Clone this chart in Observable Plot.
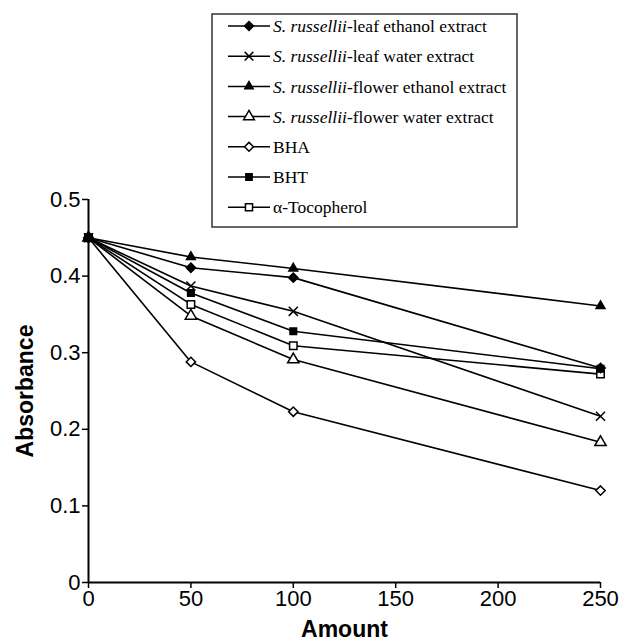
<!DOCTYPE html>
<html>
<head>
<meta charset="utf-8">
<script src="https://cdn.jsdelivr.net/npm/d3@7"></script>
<script src="https://cdn.jsdelivr.net/npm/@observablehq/plot@0.6"></script>
<style>
  body { margin: 0; background: #fff; }
  #wrap { position: relative; width: 621px; height: 644px; }
  #wrap svg.plot { position: absolute; left: 0; top: 0; }
  #legend { position: absolute; left: 0; top: 0; pointer-events: none; }
  g[aria-label="y-axis label"] text, g[aria-label="x-axis label"] text { font-weight: bold; font-size: 23px; }
</style>
</head>
<body>
<div id="wrap"></div>
<script>
const amounts = [0, 50, 100, 250];
const seriesNames = [
  ["S. russellii", "-leaf ethanol extract"],
  ["S. russellii", "-leaf water extract"],
  ["S. russellii", "-flower ethanol extract"],
  ["S. russellii", "-flower water extract"],
  ["", "BHA"],
  ["", "BHT"],
  ["", "\u03b1-Tocopherol"]
];
const leafEthanol   = [0.45, 0.411, 0.398, 0.280];
const leafWater     = [0.45, 0.387, 0.354, 0.217];
const flowerEthanol = [0.45, 0.425, 0.410, 0.361];
const flowerWater   = [0.45, 0.348, 0.291, 0.183];
const bha           = [0.45, 0.288, 0.223, 0.120];
const bht           = [0.45, 0.378, 0.328, 0.279];
const tocopherol    = [0.45, 0.363, 0.309, 0.272];
const xTicks = [0, 50, 100, 150, 200, 250];
const yTicks = [0, 0.1, 0.2, 0.3, 0.4, 0.5];

const seriesValues = [leafEthanol, leafWater, flowerEthanol, flowerWater, bha, bht, tocopherol];
const symbols = ["diamond2", "times", "triangle2", "triangle", "diamond2", "square2", "square"];
const filled = [true, false, true, false, false, true, false];

// draw order: open markers first, filled last (BHT on top at origin)
const drawOrder = [1, 3, 4, 6, 0, 2, 5];
const rows = [];
drawOrder.forEach(i => {
  amounts.forEach((a, j) => rows.push({series: i, name: seriesNames[i].join(""), amount: a, value: seriesValues[i][j]}));
});

const yFmt = d => d === 0 ? "0" : d3.format(".1f")(d);

const plot = Plot.plot({
  width: 621,
  height: 644,
  marginLeft: 88,
  marginRight: 21,
  marginTop: 199,
  marginBottom: 62,
  style: {fontFamily: "'Liberation Sans', Arial, sans-serif", fontSize: "22px", background: "transparent", color: "#000"},
  x: {domain: [0, 250], ticks: xTicks, label: "Amount"},
  y: {domain: [0, 0.5], ticks: yTicks, label: "Absorbance", tickFormat: yFmt},
  marks: [
    Plot.axisX({ticks: xTicks, tickSize: 6, tickPadding: 2, label: "Amount", labelArrow: "none", labelAnchor: "center", labelOffset: 54, stroke: "#000", strokeWidth: 1.5}),
    Plot.axisY({ticks: yTicks, tickSize: 6, tickPadding: 2, label: "Absorbance", labelArrow: "none", labelAnchor: "center", labelOffset: 72, stroke: "#000", strokeWidth: 1.5, tickFormat: yFmt}),
    Plot.ruleX([0], {stroke: "#000", strokeWidth: 2}),
    Plot.ruleY([0], {stroke: "#000", strokeWidth: 2}),
    Plot.line(rows, {x: "amount", y: "value", z: "series", stroke: "#000", strokeWidth: 1.6}),
    Plot.dot(rows, {x: "amount", y: "value", symbol: d => symbols[d.series], fill: d => filled[d.series] ? "#000" : "#fff", stroke: "#000", strokeWidth: 1.5, r: 4.2})
  ]
});
plot.classList.add("plot");
document.getElementById("wrap").appendChild(plot);

// Legend (HTML-positioned SVG overlay built with d3)
const lg = d3.select("#wrap").append("svg").attr("id", "legend").attr("width", 621).attr("height", 240);
lg.append("rect").attr("x", 212).attr("y", 14).attr("width", 305).attr("height", 213)
  .attr("fill", "#fff").attr("stroke", "#333").attr("stroke-width", 1.5);
const symMap = {diamond2: d3.symbolDiamond2, times: d3.symbolTimes, triangle2: d3.symbolTriangle2, triangle: d3.symbolTriangle, square2: d3.symbolSquare2, square: d3.symbolSquare};
seriesNames.forEach((nm, i) => {
  const y = 26 + i * 30.2;
  const g = lg.append("g").attr("transform", `translate(0,${y})`);
  g.append("line").attr("x1", 228).attr("x2", 270).attr("y1", 0).attr("y2", 0).attr("stroke", "#000").attr("stroke-width", 1.5);
  g.append("path").attr("transform", "translate(249,0)")
    .attr("d", d3.symbol(symMap[symbols[i]], Math.PI * 4 * 4)())
    .attr("fill", filled[i] ? "#000" : "#fff").attr("stroke", "#000").attr("stroke-width", 1.5);
  const t = g.append("text").attr("x", 273).attr("y", 0).attr("dy", "0.35em")
    .attr("font-family", "'Liberation Serif', 'Times New Roman', serif").attr("font-size", 17.5).attr("fill", "#000");
  if (nm[0]) t.append("tspan").attr("font-style", "italic").text(nm[0]);
  t.append("tspan").text(nm[1]);
});
</script>
</body>
</html>
